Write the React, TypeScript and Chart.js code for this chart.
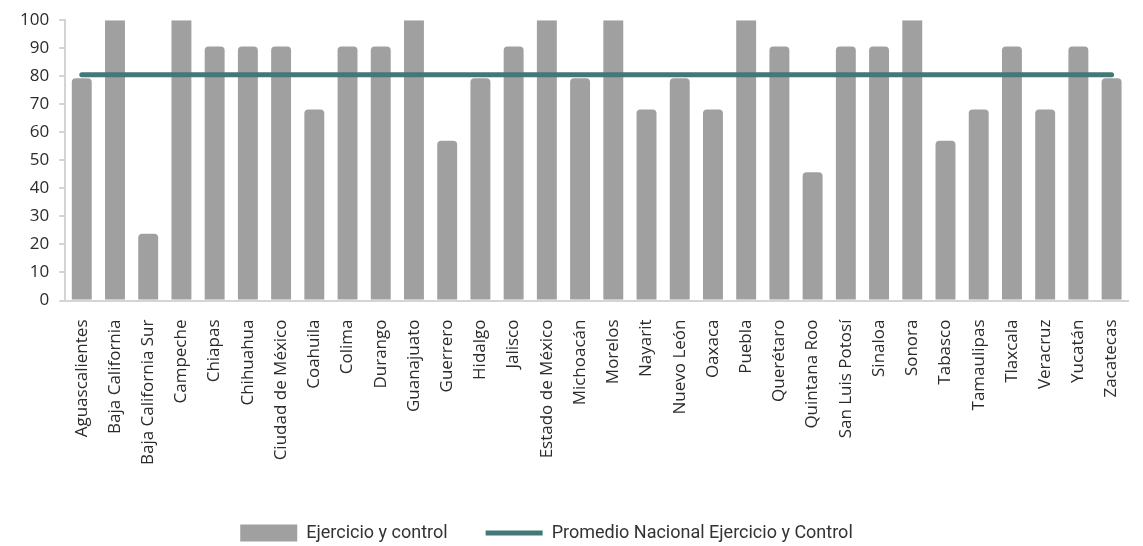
import React, { useEffect, useRef } from "react";
import { Chart, registerables } from "chart.js";

Chart.register(...registerables);

const categories = [
  "Aguascalientes", "Baja California", "Baja California Sur", "Campeche", "Chiapas",
  "Chihuahua", "Ciudad de México", "Coahuila", "Colima", "Durango", "Guanajuato",
  "Guerrero", "Hidalgo", "Jalisco", "Estado de México", "Michoacán", "Morelos",
  "Nayarit", "Nuevo León", "Oaxaca", "Puebla", "Querétaro", "Quintana Roo",
  "San Luis Potosí", "Sinaloa", "Sonora", "Tabasco", "Tamaulipas", "Tlaxcala",
  "Veracruz", "Yucatán", "Zacatecas",
];

const ejercicioValues = [
  79.3, 100, 23.8, 100, 90.6, 90.6, 90.6, 68.1, 90.6, 90.6, 100,
  57.0, 79.3, 90.6, 100, 79.3, 100, 68.1, 79.3, 68.1, 100, 90.6,
  45.8, 90.6, 90.6, 100, 57.0, 68.1, 90.6, 68.1, 90.6, 79.3,
];

const promedioNacional = 80.5;
const promedioValues = categories.map(() => promedioNacional);

const yTicks = [0, 10, 20, 30, 40, 50, 60, 70, 80, 90, 100];

const seriesNames = ["Ejercicio y control", "Promedio Nacional Ejercicio y Control"];

const legendShift = {
  id: "legendShift",
  afterLayout(chart: any) {
    const lg = chart.legend;
    if (!lg) return;
    const dx = -30;
    const dy = 10;
    lg.left += dx;
    lg.right += dx;
    lg.top += dy;
    lg.bottom += dy;
  },
};

export default function App() {
  const canvasRef = useRef<HTMLCanvasElement | null>(null);

  useEffect(() => {
    document.body.style.overflow = "hidden";
    const ctx = canvasRef.current;
    if (!ctx) return;
    const chart = new Chart(ctx, {
      type: "bar",
      data: {
        labels: categories,
        datasets: [
          {
            type: "line",
            label: seriesNames[1],
            data: promedioValues,
            borderColor: "#437877",
            backgroundColor: "#437877",
            borderWidth: 5,
            borderCapStyle: "round",
            pointRadius: 0,
            pointStyle: "line",
            order: 0,
          } as any,
          {
            type: "bar",
            label: seriesNames[0],
            data: ejercicioValues,
            backgroundColor: "#a0a0a0",
            borderWidth: 0,
            borderRadius: (c: any) => (c.raw >= 100 ? 0 : 4),
            borderSkipped: "start",
            barPercentage: 0.6,
            categoryPercentage: 1,
            pointStyle: "rect",
            order: 1,
          } as any,
        ],
      },
      plugins: [legendShift],
      options: {
        responsive: true,
        maintainAspectRatio: false,
        animation: false,
        layout: { padding: { left: 10, right: 0, top: 9, bottom: 4 } },
        plugins: {
          tooltip: { enabled: false },
          legend: {
            position: "bottom",
            reverse: true,
            labels: {
              usePointStyle: true,
              pointStyleWidth: 57,
              boxHeight: 17,
              padding: 38,
              color: "#333333",
              font: { family: '"Roboto", sans-serif', size: 18 },
            },
          },
        },
        scales: {
          x: {
            grid: { display: false },
            border: { display: true, color: "#d4d4d4", width: 2 },
            ticks: {
              minRotation: 90,
              maxRotation: 90,
              autoSkip: false,
              padding: 11,
              color: "#2b2b2b",
              font: { family: '"Open Sans", sans-serif', size: 17 },
            },
          },
          y: {
            min: 0,
            max: 100,
            afterBuildTicks: (axis: any) => {
              axis.ticks = yTicks.map((v) => ({ value: v }));
            },
            grid: {
              drawOnChartArea: false,
              drawTicks: true,
              tickLength: 6,
              color: "#d4d4d4",
              lineWidth: 2,
            },
            border: { display: true, color: "#d4d4d4", width: 2 },
            ticks: {
              padding: 10,
              color: "#2b2b2b",
              font: { family: '"Open Sans", sans-serif', size: 17 },
            },
          },
        },
      },
    });
    return () => chart.destroy();
  }, []);

  return (
    <div style={{ position: "absolute", left: 0, top: 0, width: 1143, height: 546 }}>
      <canvas ref={canvasRef} />
    </div>
  );
}
